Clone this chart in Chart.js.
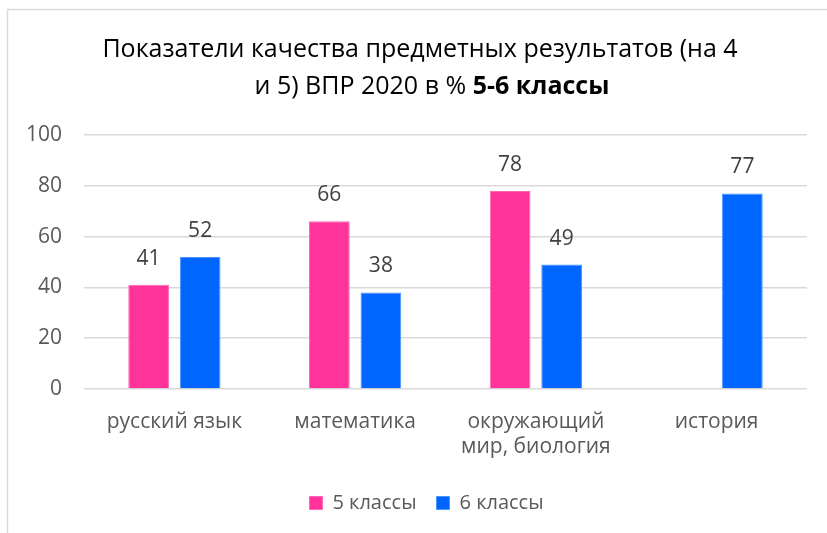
<!DOCTYPE html>
<html>
<head>
<meta charset="utf-8">
<script src="https://cdn.jsdelivr.net/npm/chart.js@4/dist/chart.umd.min.js"></script>
<style>
  body { margin: 0; background: #fff; }
  canvas { display: block; }
</style>
</head>
<body>
<canvas id="myChart" width="827" height="533"></canvas>
<script>
// categories
const subjects = [["русский язык"], ["математика"], ["окружающий", "мир, биология"], ["история"]];

// series values
const grade5 = [41, 66, 78, null];
const grade6 = [52, 38, 49, 77];

// tick labels (y axis)
const yMin = 0;
const yMax = 100;
const yStep = 20;

const FONT = "'Open Sans', 'Noto Sans', sans-serif";

// frame + title plugin
const frameAndTitle = {
  id: "frameAndTitle",
  afterLayout(chart) {
    // legend in the reference sits a bit right of the canvas centre
    if (chart.legend) chart.legend.left += 46;
  },
  beforeDraw(chart) {
    const ctx = chart.ctx;
    ctx.save();
    ctx.strokeStyle = "#d9d9d9";
    ctx.lineWidth = 1.5;
    ctx.strokeRect(7.5, 9.5, 900, 900);

    // title, second line has a bold tail
    ctx.fillStyle = "#000000";
    ctx.textBaseline = "middle";
    ctx.textAlign = "left";
    ctx.font = "25px " + FONT;
    const l1 = "Показатели качества предметных результатов (на 4";
    let w1 = ctx.measureText(l1).width;
    ctx.fillText(l1, 420 - w1 / 2, 50);

    const l2a = "и 5) ВПР 2020 в % ";
    const l2b = "5-6 классы";
    ctx.font = "25px " + FONT;
    const wa = ctx.measureText(l2a).width;
    ctx.font = "bold 25px " + FONT;
    const wb = ctx.measureText(l2b).width;
    const x0 = 432 - (wa + wb) / 2;
    ctx.font = "25px " + FONT;
    ctx.fillText(l2a, x0, 87);
    ctx.font = "bold 25px " + FONT;
    ctx.fillText(l2b, x0 + wa, 87);
    ctx.restore();
  },
};

// value labels above bars
const valueLabels = {
  id: "valueLabels",
  afterDatasetsDraw(chart) {
    const ctx = chart.ctx;
    ctx.save();
    ctx.font = "21px " + FONT;
    ctx.fillStyle = "#404040";
    ctx.textAlign = "center";
    ctx.textBaseline = "middle";
    chart.data.datasets.forEach((ds, i) => {
      const meta = chart.getDatasetMeta(i);
      meta.data.forEach((bar, j) => {
        const v = ds.data[j];
        if (v === null || v === undefined) return;
        ctx.fillText(String(v), bar.x, bar.y - 26);
      });
    });
    ctx.restore();
  },
};

const data = {
  labels: subjects,
  datasets: [
    {
      label: "5 классы",
      data: grade5,
      backgroundColor: "#ff3399",
      borderColor: "#ff66b3",
      borderWidth: 1,
      barPercentage: 0.79,
      categoryPercentage: 0.57,
    },
    {
      label: "6 классы",
      data: grade6,
      backgroundColor: "#0066ff",
      borderColor: "#4d94ff",
      borderWidth: 1,
      barPercentage: 0.79,
      categoryPercentage: 0.57,
    },
  ],
};

const config = {
  type: "bar",
  data: data,
  options: {
    responsive: false,
    animation: false,
    devicePixelRatio: 1,
    layout: {
      padding: { top: 135, left: 0, right: 20, bottom: 10 },
    },
    plugins: {
      title: { display: false },
      tooltip: { enabled: false },
      legend: {
        position: "bottom",
        labels: {
          boxWidth: 13,
          boxHeight: 13,
          padding: 20,
          color: "#595959",
          font: { family: FONT, size: 20 },
        },
      },
    },
    scales: {
      x: {
        grid: { display: false },
        border: { display: false },
        ticks: {
          color: "#595959",
          font: { family: FONT, size: 21 },
          padding: 12,
          maxRotation: 0,
          autoSkip: false,
        },
        afterFit(scale) {
          scale.height = 84;
        },
      },
      y: {
        min: yMin,
        max: yMax,
        grid: { color: "#d9d9d9", lineWidth: 1.5, drawTicks: false },
        border: { display: false },
        ticks: {
          stepSize: yStep,
          color: "#595959",
          font: { family: FONT, size: 21 },
          padding: 22,
        },
        afterFit(scale) {
          scale.width = 84;
        },
      },
    },
  },
  plugins: [frameAndTitle, valueLabels],
};

const myChart = new Chart(document.getElementById("myChart"), config);
</script>
</body>
</html>
